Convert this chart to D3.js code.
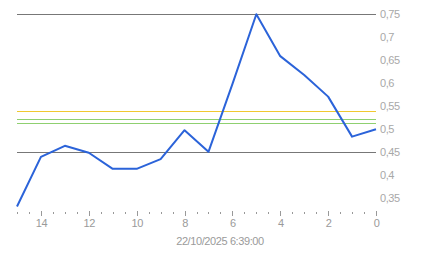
<!DOCTYPE html>
<html>
<head>
<meta charset="utf-8">
<script src="https://cdn.jsdelivr.net/npm/d3@7"></script>
<style>
  body { margin: 0; background: #fff; }
  text { font-family: "Liberation Sans", Arial, sans-serif; font-size: 11px; fill: #9a9a9a; letter-spacing: -0.4px; }
  .ylab { fill: #a8a8a8; }
</style>
</head>
<body>
<script>
var w = 443, h = 258;

// hours before the timestamp, and the reading at each
var hours  = [15, 14, 13, 12, 11, 10, 9, 8, 7, 6, 5, 4, 3, 2, 1, 0];
var values = [0.332, 0.440, 0.464, 0.449, 0.414, 0.414, 0.435, 0.498, 0.451, 0.598, 0.750, 0.659, 0.618, 0.571, 0.484, 0.500];

var yTicks = [0.35, 0.4, 0.45, 0.5, 0.55, 0.6, 0.65, 0.7, 0.75];
var xLabels = [14, 12, 10, 8, 6, 4, 2, 0];
var xMinor = d3.range(0, 15.01, 0.5);

// limit lines: max/min in grey, thresholds in yellow/green
var greyLines = [0.75, 0.45];
var yellowLines = [0.540];
var greenLines = [0.5224, 0.513];

var dateLabel = "22/10/2025 6:39:00";

var x = d3.scaleLinear().domain([15, 0]).range([17, 376]);
var y = d3.scaleLinear().domain([0.331, 0.75]).range([207, 14.3]);

var fmt = function(v) { return d3.format(".2~f")(v).replace(".", ","); };

var svg = d3.select("body").append("svg")
    .attr("width", w)
    .attr("height", h);

function hline(data, col) {
    svg.append("g").selectAll("line")
        .data(data)
        .enter().append("line")
        .attr("x1", x(15)).attr("x2", x(0))
        .attr("y1", function(d) { return Math.round(y(d)) + 0.5; })
        .attr("y2", function(d) { return Math.round(y(d)) + 0.5; })
        .style("stroke", col)
        .style("stroke-width", 1);
}
hline(greyLines, "#777");
hline(yellowLines, "#f0c830");
hline(greenLines, "#8fd070");

// y labels on the right
svg.append("g").selectAll("text")
    .data(yTicks)
    .enter().append("text")
    .attr("class", "ylab")
    .attr("x", 380)
    .attr("y", function(d) { return y(d); })
    .attr("dy", "0.35em")
    .text(fmt);

// x minor ticks (dots) and labelled ticks
svg.append("g").selectAll("rect")
    .data(xMinor)
    .enter().append("rect")
    .attr("x", function(d) { return Math.round(x(d)); })
    .attr("y", 212)
    .attr("width", 1)
    .attr("height", 2)
    .style("fill", "#999");

svg.append("g").selectAll("rect")
    .data(xLabels)
    .enter().append("rect")
    .attr("x", function(d) { return Math.round(x(d)); })
    .attr("y", 211)
    .attr("width", 1)
    .attr("height", 5)
    .style("fill", "#999");

svg.append("g").selectAll("text")
    .data(xLabels)
    .enter().append("text")
    .attr("x", function(d) { return x(d) + 0.5; })
    .attr("y", 223)
    .attr("dy", "0.35em")
    .attr("text-anchor", "middle")
    .text(function(d) { return d; });

svg.append("text")
    .attr("x", 220)
    .attr("y", 241)
    .attr("dy", "0.35em")
    .attr("text-anchor", "middle")
    .text(dateLabel);

// the series
var line = d3.line()
    .x(function(d, i) { return x(hours[i]); })
    .y(function(d) { return y(d); });

svg.append("path")
    .datum(values)
    .attr("d", line)
    .style("fill", "none")
    .style("stroke", "#2b63d9")
    .style("stroke-width", 2)
    .style("stroke-linejoin", "round");
</script>
</body>
</html>
